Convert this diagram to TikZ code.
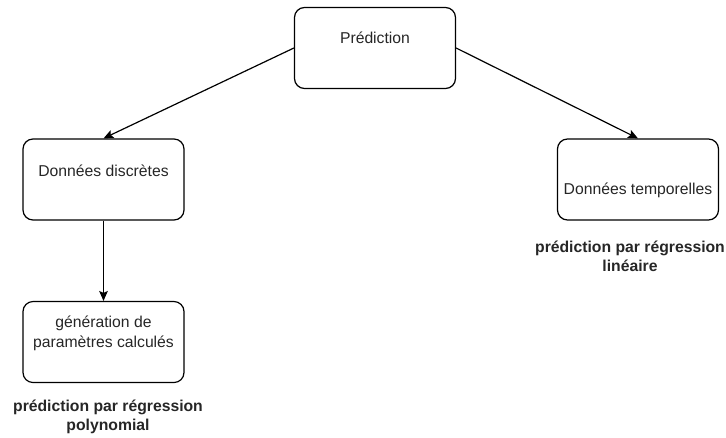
\documentclass[tikz,border=0pt]{standalone}
\usepackage{fontspec}
\setmainfont{Liberation Sans}
\usepackage{tikz}
\usetikzlibrary{arrows, arrows.meta, positioning}
\tikzstyle{box} = [rectangle, rounded corners=7.5pt, minimum width=120.75pt, minimum height=60.75pt, draw=black, line width=0.9pt]
\tikzstyle{txt} = [align=center, font=\fontsize{11.8}{15}\selectfont, text=black!85]
\tikzstyle{note} = [align=center, font=\fontsize{11.8}{14}\selectfont\bfseries, text=black!85]
\tikzstyle{arrow} = [line width=0.9pt,->,>={Stealth[length=7.5pt,width=6.5pt,inset=1.5pt]}]

\begin{document}
\begin{tikzpicture}[x=0.75pt, y=-0.75pt, node distance=121.9pt]
        \useasboundingbox (0,0) rectangle (726,438);
        \node (pred) [box] at (375,48) {};
        \node (disc) [box] at (103.5,179.5) {};
        \node (temp) [box] at (638,179.5) {};
        \node (gen) [box, below of=disc] {};

        \node (predtxt) [txt] at ([yshift=7.5pt]pred.center) {Prédiction};
        \node (disctxt) [txt] at ([yshift=6.4pt]disc.center) {Données discrètes};
        \node (temptxt) [txt] at ([yshift=-7.9pt]temp.center) {Données temporelles};
        \node (gentxt) [txt] at ([yshift=6.75pt]gen.center) {génération de\\paramètres calculés};

        \node (tempnote) [note] at (630,256) {prédiction par régression\\linéaire};
        \node (gennote) [note] at (108,417) {prédiction par régression\\polynomial};

        \draw [arrow] (pred.west) -- (disc.north);
        \draw [arrow] (pred.east) -- (temp.north);
        \draw [arrow] (disc) -- (gen);
    \end{tikzpicture}
\end{document}
